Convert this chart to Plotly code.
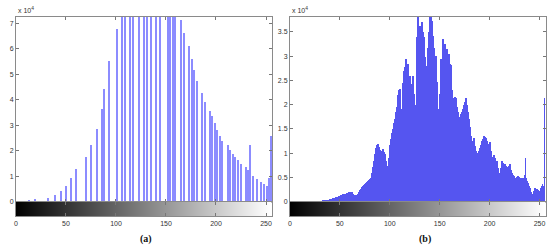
import plotly.graph_objs as go

# Histogram (a): sparse grey levels and their counts (x 10^4)
a_levels = [13, 19, 32, 39, 45, 50, 55, 60, 70, 75,
            81, 86, 88, 93, 101, 106, 109, 114, 117, 123,
            128, 131, 135, 140, 144, 152, 154, 157, 159, 165,
            168, 173, 176, 178, 181, 186, 189, 194, 196, 199,
            201, 204, 206, 212, 214, 217, 219, 222, 225, 230,
            232, 234, 237, 241, 245, 248, 251, 253, 255]
a_counts = [0.05, 0.09, 0.13, 0.27, 0.41, 0.63, 0.94, 1.29, 1.76, 2.22,
            2.84, 3.64, 4.41, 5.52, 6.78, 7.9, 8.6, 9.3, 9.8, 10.4,
            10.9, 11.1, 11.0, 10.6, 10.1, 9.2, 8.8, 8.3, 7.7, 7.13,
            6.61, 6.12, 5.62, 5.16, 4.74, 4.28, 3.91, 3.57, 3.35, 3.09,
            2.82, 2.60, 2.40, 2.21, 2.03, 1.89, 1.74, 1.62, 1.47, 1.36,
            1.25, 2.24, 1.0, 0.88, 0.78, 0.69, 0.62, 0.95, 2.57]

# Histogram (b): counts (x 10^4) for every grey level 0..255
b_levels = list(range(256))
b_counts = [
    0, 0, 0, 0, 0, 0, 0, 0, 0, 0, 0, 0, 0, 0, 0, 0,
    0, 0, 0, 0, 0, 0, 0, 0, 0, 0, 0, 0, 0, 0, 0, 0.01,
    0.01, 0.02, 0.02, 0.02, 0.03, 0.03, 0.03, 0.04, 0.05, 0.05, 0.06, 0.07, 0.07, 0.08, 0.09, 0.09,
    0.10, 0.11, 0.12, 0.13, 0.14, 0.15, 0.15, 0.17, 0.16, 0.18, 0.19, 0.20, 0.21, 0.21, 0.20, 0.17,
    0.14, 0.13, 0.12, 0.14, 0.17, 0.20, 0.24, 0.27, 0.30, 0.33, 0.35, 0.37, 0.39, 0.41, 0.43, 0.45,
    0.47, 0.50, 0.60, 0.72, 0.85, 0.98, 1.10, 1.18, 1.20, 1.12, 1.06, 0.98, 1.04, 1.08, 1.03, 0.98,
    0.85, 0.74, 0.68, 0.90, 1.18, 1.30, 1.42, 1.50, 1.62, 1.70, 1.85, 1.95, 2.20, 2.30, 2.33, 1.86,
    1.92, 2.45, 2.70, 2.78, 2.94, 2.51, 2.84, 2.54, 2.60, 2.20, 2.43, 2.60, 2.23, 1.99, 1.62, 3.40,
    3.85, 3.52, 3.62, 3.20, 3.70, 3.50, 3.39, 2.98, 2.64, 2.80, 3.18, 3.50, 3.90, 3.95, 3.73, 3.42,
    3.18, 2.80, 3.01, 2.47, 1.82, 1.91, 2.23, 2.94, 2.60, 3.35, 3.20, 3.25, 2.85, 3.15, 2.94, 3.05,
    2.84, 2.81, 2.30, 2.13, 1.99, 2.16, 2.13, 1.95, 1.86, 1.75, 1.72, 1.80, 1.86, 1.92, 1.99, 2.05,
    2.13, 2.00, 1.86, 1.70, 1.55, 1.35, 1.18, 1.25, 1.31, 1.15, 1.04, 1.00, 0.97, 1.05, 1.10, 1.18,
    1.25, 1.30, 1.35, 1.33, 1.31, 1.25, 1.18, 1.20, 1.24, 1.05, 0.90, 0.93, 0.97, 0.90, 0.85, 0.84,
    0.70, 0.60, 0.56, 0.70, 0.84, 0.80, 0.78, 0.77, 0.74, 0.72, 0.70, 0.74, 0.77, 0.66, 0.60, 0.56,
    0.53, 0.50, 0.50, 0.52, 0.53, 0.51, 0.50, 0.50, 0.48, 0.46, 0.50, 0.55, 0.90, 0.50, 0.43, 0.38,
    0.33, 0.28, 0.20, 0.16, 0.22, 0.29, 0.28, 0.27, 0.26, 0.24, 0.22, 0.28, 0.33, 0.36, 0.33, 2.13,
]

gray_levels = list(range(256))
x_ticks = [0, 50, 100, 150, 200, 250]
a_yticks = [0, 1, 2, 3, 4, 5, 6, 7]
b_yticks = [0, 0.5, 1, 1.5, 2, 2.5, 3, 3.5]
b_ytext = ['0', '0.5', '1', '1.5', '2', '2.5', '3', '3.5']

W, H = 550, 251

def dom_x(p0, p1):
    return [p0 / W, p1 / W]

def dom_y(p_top, p_bot):
    return [1 - p_bot / H, 1 - p_top / H]

fig = go.Figure()

fig.add_trace(go.Bar(x=a_levels, y=a_counts, xaxis='x', yaxis='y', width=1.2,
                     marker=dict(color='#8c8cff', line_width=0)))
fig.add_trace(go.Heatmap(z=[gray_levels], x=gray_levels, y=[0], xaxis='x2', yaxis='y2',
                         colorscale=[[0, '#000000'], [1, '#ffffff']], showscale=False))
fig.add_trace(go.Bar(x=b_levels, y=b_counts, xaxis='x3', yaxis='y3', width=0.8,
                     marker=dict(color='rgb(85,85,240)', line_width=0)))
fig.add_trace(go.Heatmap(z=[gray_levels], x=gray_levels, y=[0], xaxis='x4', yaxis='y4',
                         colorscale=[[0, '#000000'], [1, '#ffffff']], showscale=False))

common = dict(showline=True, linecolor='#8a8a8a', linewidth=1, mirror='allticks',
              ticks='inside', ticklen=3, tickcolor='#777', showgrid=False, zeroline=False,
              tickfont=dict(family='Liberation Sans', size=7, color='#333'))

ha, hb = dom_x(14, 271), dom_x(289, 546)
hist_y, bar_y = dom_y(17, 204), dom_y(204, 219)

fig.update_layout(
    width=W, height=H, margin=dict(l=0, r=0, t=0, b=0),
    paper_bgcolor='white', plot_bgcolor='white', showlegend=False, bargap=0,
    xaxis=dict(common, domain=ha, range=[0, 256], tickvals=x_ticks, showticklabels=False, anchor='y'),
    yaxis=dict(common, domain=hist_y, range=[0, 7.25], tickvals=a_yticks, anchor='x'),
    xaxis2=dict(common, domain=ha, range=[0, 256], tickvals=x_ticks, anchor='y2'),
    yaxis2=dict(common, domain=bar_y, range=[-0.5, 0.5], ticks='', showticklabels=False, anchor='x2'),
    xaxis3=dict(common, domain=hb, range=[0, 256.5], tickvals=x_ticks, showticklabels=False, anchor='y3'),
    yaxis3=dict(common, domain=hist_y, range=[0, 3.81], tickvals=b_yticks, ticktext=b_ytext, anchor='x3'),
    xaxis4=dict(common, domain=hb, range=[0, 256.5], tickvals=x_ticks, anchor='y4'),
    yaxis4=dict(common, domain=bar_y, range=[-0.5, 0.5], ticks='', showticklabels=False, anchor='x4'),
)

for xp in [14, 289]:
    fig.add_annotation(x=xp / W, y=1 - 10 / H, xref='paper', yref='paper', showarrow=False,
                       text='x 10<sup>4</sup>', xanchor='left', yanchor='middle',
                       font=dict(family='Liberation Sans', size=7, color='#333'))
for xp, lab in [(145, '(a)'), (425, '(b)')]:
    fig.add_annotation(x=xp / W, y=1 - 242 / H, xref='paper', yref='paper', showarrow=False,
                       text='<b>' + lab + '</b>', xanchor='center', yanchor='middle',
                       font=dict(family='Liberation Serif', size=10, color='#111'))

# drop the browser's default body margin so the figure sits at the page corner
fig.write_html("out.html", config={'displayModeBar': False},
               post_script="document.body.style.margin='0';")
